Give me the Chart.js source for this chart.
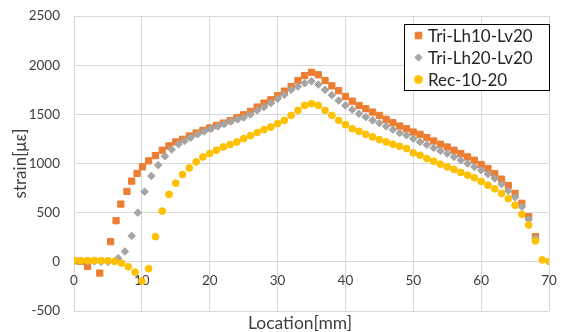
<!DOCTYPE html>
<html><head><meta charset="utf-8">
<script src="https://cdn.jsdelivr.net/npm/chart.js@4/dist/chart.umd.min.js"></script>
<style>html,body{margin:0;padding:0;background:#fff}#wrap{width:566px;height:332px}</style>
</head><body><div id="wrap"><canvas id="c" width="566" height="332"></canvas></div>
<script>
const seriesNames = ['Tri-Lh10-Lv20', 'Tri-Lh20-Lv20', 'Rec-10-20'];

const triLh10X = [0,1,2,3.8,5.4,6.2,6.9,7.8,8.5,9.3,10.1,11,12,13,14,15,16,17,18,19,20,21,22,23,24,25,26,27,28,29,30,31,32,33,34,35,36,37,38,39,40,41,42,43,44,45,46,47,48,49,50,51,52,53,54,55,56,57,58,59,60,61,62,63,64,65,66,67,68];
const triLh10Y = [10,5,-47,-114,205,418,587,716,821,899,966,1027,1080,1135,1179,1219,1246,1280,1310,1337,1361,1388,1411,1435,1466,1495,1530,1574,1614,1648,1689,1736,1783,1844,1894,1928,1902,1844,1790,1740,1682,1634,1591,1557,1523,1489,1449,1415,1381,1354,1320,1297,1263,1229,1196,1168,1135,1101,1067,1033,990,949,898,841,777,696,595,459,256];

const triLh20X = [0,1,2,3,4,5,6.5,7.5,8.5,9.4,10.4,11.4,12.4,13.4,14.4,15.4,16.3,17.2,18.2,19.2,20.2,21.2,22.1,23.1,24.1,25,26,27,28,29,30,31,32,33,34,35,36,37,38,39,40,41,42,43,44,45,46,47,48,49,50,51,52,53,54,55,56,57,58,59,60,61,62,63,64,65,66,67,68];
const triLh20Y = [10,10,5,5,0,0,37,105,264,500,713,873,983,1074,1142,1196,1229,1263,1297,1327,1354,1378,1401,1428,1449,1466,1499,1540,1574,1614,1658,1699,1749,1783,1817,1837,1803,1749,1695,1640,1591,1547,1506,1472,1439,1411,1378,1344,1310,1287,1253,1219,1190,1158,1128,1101,1067,1033,1000,966,932,892,848,790,723,656,561,432,240];

const rec1020X = [0,1,2,3,4,5,6,7,8,9,10,11,12,13,14,15,16,17,18,19,20,21,22,23,24,25,26,27,28,29,30,31,32,33,34,35,36,37,38,39,40,41,42,43,44,45,46,47,48,49,50,51,52,53,54,55,56,57,58,59,60,61,62,63,64,65,66,67,68,69,70];
const rec1020Y = [15,12,12,14,12,10,5,-13,-50,-105,-195,-70,256,516,686,800,888,955,1016,1067,1101,1135,1168,1192,1219,1253,1283,1315,1344,1371,1405,1439,1489,1540,1591,1608,1591,1540,1489,1439,1395,1354,1327,1297,1270,1243,1219,1196,1175,1152,1108,1084,1050,1023,993,966,939,909,882,855,818,780,743,696,642,575,483,375,213,20,3];

const xTickValues = [0,10,20,30,40,50,60,70];
const yTickValues = [-500,0,500,1000,1500,2000,2500];
const xTitle = 'Location[mm]';
const yTitle = 'strain[με]';

const toPts = (xs, ys) => xs.map((x, i) => ({x: x, y: ys[i]}));
const FONT = 'Lato, "Liberation Sans", sans-serif';
const TXT = '#404040';
const GRID = '#d9d9d9';
const zeroPad = (s) => { s.paddingTop = 0; s.paddingBottom = 0; s.paddingLeft = 0; s.paddingRight = 0; };

const legendPlugin = {
  id: 'boxLegend',
  afterDraw(chart) {
    const ctx = chart.ctx;
    ctx.save();
    const bx = 404.5, by = 24.5, bw = 145, bh = 66;
    ctx.fillStyle = '#fff';
    ctx.fillRect(bx, by, bw, bh);
    ctx.strokeStyle = '#000';
    ctx.lineWidth = 1;
    ctx.strokeRect(bx, by, bw, bh);
    ctx.font = '17px ' + FONT;
    ctx.textBaseline = 'middle';
    ctx.textAlign = 'left';
    chart.data.datasets.forEach((ds, i) => {
      const cy = 35.5 + i * 22;
      ctx.fillStyle = ds.backgroundColor;
      ctx.strokeStyle = ds.borderColor;
      ctx.lineWidth = 1;
      Chart.helpers.drawPoint(ctx, {pointStyle: ds.pointStyle, radius: ds.legendRadius, borderWidth: 1, rotation: 0}, 418.5, cy);
      ctx.fillStyle = '#262626';
      ctx.fillText(ds.label, 428, cy + 1);
    });
    ctx.restore();
  }
};

const xTitlePlugin = {
  id: 'xTitle',
  afterDraw(chart) {
    const ctx = chart.ctx;
    ctx.save();
    ctx.font = '17.5px ' + FONT;
    ctx.fillStyle = TXT;
    ctx.textAlign = 'center';
    ctx.textBaseline = 'middle';
    ctx.fillText(xTitle, 300, 323);
    ctx.restore();
  }
};

new Chart(document.getElementById('c'), {
  type: 'scatter',
  data: {
    datasets: [
      {label: seriesNames[0], data: toPts(triLh10X, triLh10Y), pointStyle: 'rect', pointRadius: 4.4, legendRadius: 4.6,
       backgroundColor: '#ED7D31', borderColor: '#ED7D31', borderWidth: 1, order: 3},
      {label: seriesNames[1], data: toPts(triLh20X, triLh20Y), pointStyle: 'rectRot', pointRadius: 3.8, legendRadius: 3.6,
       backgroundColor: '#A5A5A5', borderColor: '#A5A5A5', borderWidth: 1, order: 2},
      {label: seriesNames[2], data: toPts(rec1020X, rec1020Y), pointStyle: 'circle', pointRadius: 3.4, legendRadius: 4,
       backgroundColor: '#FFC000', borderColor: '#FFC000', borderWidth: 1, order: 1}
    ]
  },
  options: {
    responsive: false,
    animation: false,
    devicePixelRatio: 1,
    layout: {padding: {left: 0, top: 16, right: 17, bottom: 0}},
    plugins: {legend: {display: false}, tooltip: {enabled: false}},
    scales: {
      x: {
        type: 'linear', min: 0, max: 70, position: 'bottom',
        afterBuildTicks: (s) => { s.ticks = xTickValues.map(v => ({value: v})); },
        ticks: {display: false},
        grid: {color: GRID, lineWidth: 1, drawTicks: false},
        border: {display: false},
        afterFit: (s) => { s.height = 21; zeroPad(s); }
      },
      x2: {
        type: 'linear', min: 0, max: 70, axis: 'x', position: {y: 0},
        afterBuildTicks: (s) => { s.ticks = xTickValues.map(v => ({value: v})); },
        ticks: {color: TXT, font: {family: FONT, size: 13.5}, padding: 11, maxRotation: 0, callback: (v) => String(v)},
        grid: {display: false, drawTicks: false},
        border: {display: false},
        afterFit: (s) => { zeroPad(s); }
      },
      y: {
        type: 'linear', min: -500, max: 2500,
        afterBuildTicks: (s) => { s.ticks = yTickValues.map(v => ({value: v})); },
        ticks: {color: TXT, font: {family: FONT, size: 13.5}, padding: 14, callback: (v) => String(v)},
        grid: {color: GRID, lineWidth: 1, drawTicks: false},
        border: {display: false},
        title: {display: true, text: yTitle, color: TXT, font: {family: FONT, size: 17}, padding: {top: 10, bottom: 0}},
        afterFit: (s) => { s.width = 74; zeroPad(s); }
      }
    }
  },
  plugins: [legendPlugin, xTitlePlugin]
});
</script>
</body></html>
